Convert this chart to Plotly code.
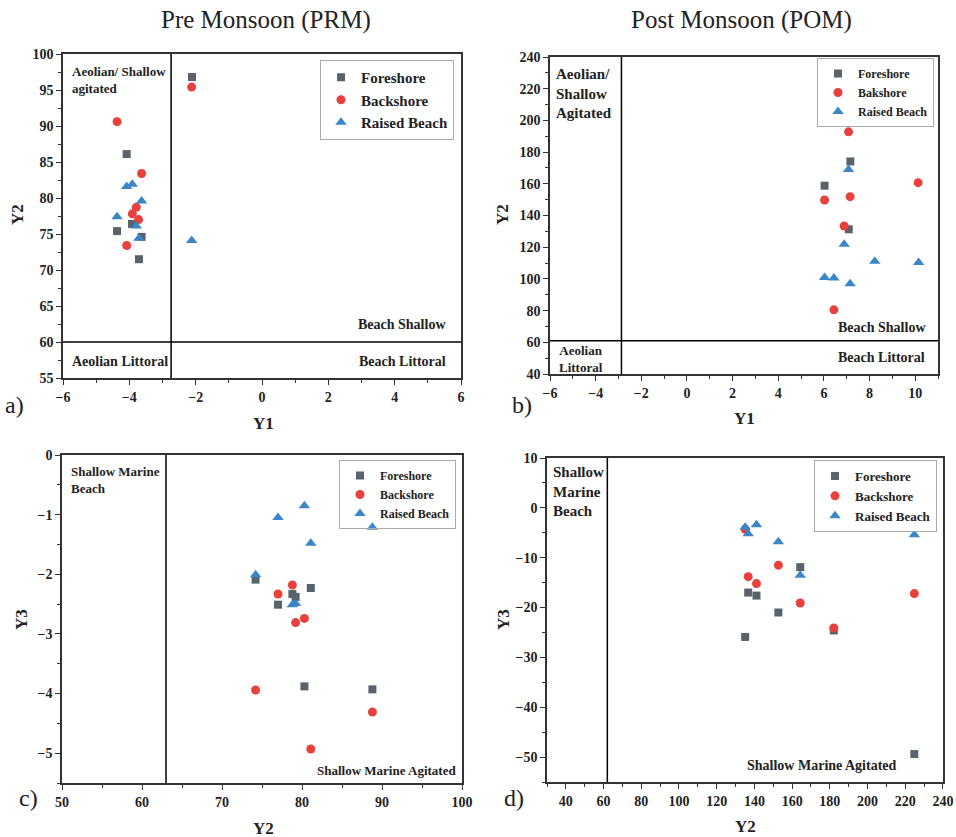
import plotly.graph_objects as go

W, H = 956, 837

# ---------------- Data ----------------
# Panel a: Pre Monsoon, Y1 vs Y2
a_fore_y1 = [-2.11, -4.08, -3.92, -4.37, -3.63, -3.71]
a_fore_y2 = [96.8, 86.1, 76.4, 75.4, 74.6, 71.5]
a_back_y1 = [-2.12, -4.37, -3.63, -3.79, -3.91, -3.72, -4.08]
a_back_y2 = [95.4, 90.6, 83.4, 78.7, 77.8, 77.0, 73.4]
a_rais_y1 = [-4.08, -3.91, -3.63, -4.37, -3.79, -3.71, -2.12]
a_rais_y2 = [81.6, 81.9, 79.6, 77.4, 76.1, 74.4, 74.1]

# Panel b: Post Monsoon, Y1 vs Y2
b_fore_y1 = [6.44, 8.23, 6.89, 7.16, 6.03, 7.09]
b_fore_y2 = [224.0, 211.7, 202.9, 174.1, 158.8, 131.3]
b_back_y1 = [7.08, 10.13, 7.15, 6.03, 6.89, 6.44]
b_back_y2 = [192.8, 160.7, 151.9, 149.8, 133.4, 80.5]
b_rais_y1 = [7.08, 6.89, 8.23, 10.15, 6.03, 6.44, 7.15]
b_rais_y2 = [169.1, 121.9, 111.2, 110.3, 100.9, 100.5, 96.9]

# Panel c: Pre Monsoon, Y2 vs Y3
c_fore_y2 = [74.2, 81.1, 78.8, 79.2, 77.0, 80.3, 88.8]
c_fore_y3 = [-2.09, -2.23, -2.33, -2.38, -2.51, -3.88, -3.93]
c_back_y2 = [78.8, 77.0, 80.3, 79.2, 74.2, 88.8, 81.1]
c_back_y3 = [-2.18, -2.33, -2.74, -2.81, -3.94, -4.31, -4.93]
c_rais_y2 = [80.3, 77.0, 88.8, 81.1, 74.2, 78.8, 79.2]
c_rais_y3 = [-0.85, -1.05, -1.21, -1.48, -2.01, -2.51, -2.49]

# Panel d: Post Monsoon, Y2 vs Y3
d_fore_y2 = [135.1, 136.7, 141.1, 152.7, 164.3, 182.1, 224.8]
d_fore_y3 = [-25.9, -17.0, -17.6, -21.0, -11.9, -24.6, -49.4]
d_back_y2 = [135.1, 136.7, 141.1, 152.7, 164.3, 182.1, 224.8]
d_back_y3 = [-4.3, -13.8, -15.2, -11.5, -19.1, -24.1, -17.2]
d_rais_y2 = [135.1, 136.7, 141.1, 152.7, 164.3, 182.1, 224.8]
d_rais_y3 = [-3.9, -5.2, -3.4, -6.8, -13.5, -4.15, -5.4]

# Boundary values
a_y1_bound, a_y2_bound = -2.74, 60.0
b_y1_bound, b_y2_bound = -2.87, 61.0
c_y2_bound = 63.0
d_y2_bound = 62.0

series_names = ["Foreshore", "Backshore", "Raised Beach"]
series_names_b = ["Foreshore", "Bakshore", "Raised Beach"]

# ---------------- Styling ----------------
COL = ["#59636b", "#e8413c", "#3b86c6"]
SYM = ["square", "circle", "triangle-up"]
SIZ = [8, 9, 10]
SERIF = "Liberation Serif"

def px(x):
    return x / W

def py(y):
    return 1 - y / H

fig = go.Figure()

panels = [
    ("x", "y", "legend", [(a_fore_y1, a_fore_y2), (a_back_y1, a_back_y2), (a_rais_y1, a_rais_y2)], series_names),
    ("x2", "y2", "legend2", [(b_fore_y1, b_fore_y2), (b_back_y1, b_back_y2), (b_rais_y1, b_rais_y2)], series_names_b),
    ("x3", "y3", "legend3", [(c_fore_y2, c_fore_y3), (c_back_y2, c_back_y3), (c_rais_y2, c_rais_y3)], series_names),
    ("x4", "y4", "legend4", [(d_fore_y2, d_fore_y3), (d_back_y2, d_back_y3), (d_rais_y2, d_rais_y3)], series_names),
]

for xa, ya, lg, data, names in panels:
    for i, (xs, ys) in enumerate(data):
        fig.add_trace(go.Scatter(
            x=xs, y=ys, mode="markers", xaxis=xa, yaxis=ya, legend=lg,
            name="<b>" + names[i] + "</b>",
            marker=dict(symbol=SYM[i], size=SIZ[i], color=COL[i], line=dict(width=0)),
        ))

def axis(domain, rng, dtick, minor, anchor, tick0=None):
    d = dict(
        domain=domain, range=rng, dtick=dtick, anchor=anchor,
        showgrid=False, zeroline=False, showline=True, linecolor="#333", linewidth=1.5,
        mirror=True, ticks="outside", ticklen=5, tickwidth=1.2, tickcolor="#333",
        minor=dict(ticks="outside", ticklen=3, dtick=minor, tickcolor="#333", showgrid=False),
        tickfont=dict(family=SERIF, size=14, color="#222", weight=700),
        automargin=False,
    )
    if tick0 is not None:
        d["tick0"] = tick0
    return d

layout = dict(
    width=W, height=H, margin=dict(l=0, r=0, t=0, b=0),
    font=dict(family=SERIF, color="#222"),
    paper_bgcolor="white", plot_bgcolor="white", showlegend=True,
    xaxis=axis([px(63), px(461)], [-6, 6], 2, 1, "y"),
    yaxis=axis([py(378), py(54)], [55, 100], 5, 2.5, "x"),
    xaxis2=axis([px(550), px(938)], [-6, 11], 2, 1, "y2"),
    yaxis2=axis([py(374), py(57)], [40, 240], 20, 10, "x2"),
    xaxis3=axis([px(62), px(462)], [50, 100], 10, 5, "y3"),
    yaxis3=axis([py(783), py(455)], [-5.5, 0], 1, 0.5, "x3"),
    xaxis4=axis([px(547), px(943)], [30, 240.01], 20, 10, "y4", tick0=0),
    yaxis4=axis([py(782), py(458)], [-55, 10], 10, 5, "x4", tick0=0),
)

def legend_box(xr, yt, size, bg="white"):
    return dict(
        x=px(xr), y=py(yt), xanchor="right", yanchor="top",
        bgcolor=bg, bordercolor="#aaa", borderwidth=1,
        font=dict(family=SERIF, size=size, color="#222"),
        itemsizing="trace", tracegroupgap=0,
    )

layout["legend"] = legend_box(454, 60, 15)
layout["legend2"] = legend_box(934, 58, 12)
layout["legend3"] = legend_box(456, 460, 12, bg="rgba(255,255,255,0)")
layout["legend4"] = legend_box(937, 460, 13)

fig.update_layout(**layout)

# Boundary lines
LINE = dict(color="black", width=1.5)
shapes = [
    dict(type="line", xref="x", yref="y", x0=a_y1_bound, x1=a_y1_bound, y0=55, y1=100, line=LINE),
    dict(type="line", xref="x", yref="y", x0=-6, x1=6, y0=a_y2_bound, y1=a_y2_bound, line=LINE),
    dict(type="line", xref="x2", yref="y2", x0=b_y1_bound, x1=b_y1_bound, y0=40, y1=240, line=LINE),
    dict(type="line", xref="x2", yref="y2", x0=-6, x1=11, y0=b_y2_bound, y1=b_y2_bound, line=LINE),
    dict(type="line", xref="x3", yref="y3", x0=c_y2_bound, x1=c_y2_bound, y0=-5.5, y1=0, line=LINE),
    dict(type="line", xref="x4", yref="y4", x0=d_y2_bound, x1=d_y2_bound, y0=-55, y1=10, line=LINE),
]
fig.update_layout(shapes=shapes)

anns = []

def txt(text, x, y, size, xanchor="center", yanchor="middle", bold=True, angle=0, align="left"):
    anns.append(dict(
        text=("<b>" + text + "</b>") if bold else text,
        x=px(x), y=py(y), xref="paper", yref="paper", showarrow=False,
        xanchor=xanchor, yanchor=yanchor, textangle=angle, align=align,
        font=dict(family=SERIF, size=size, color="#222"),
    ))

# Titles
txt("Pre Monsoon (PRM)", 266, 20, 25, bold=False)
txt("Post Monsoon (POM)", 741, 20, 25, bold=False)

# Axis titles
txt("Y2", 18, 215, 17, angle=-90)
txt("Y1", 263, 423, 17)
txt("Y2", 503, 215, 17, angle=-90)
txt("Y1", 744, 418, 17)
txt("Y3", 21, 620, 17, angle=-90)
txt("Y2", 263, 828, 17)
txt("Y3", 503, 620, 17, angle=-90)
txt("Y2", 745, 826, 17)

# Panel labels
txt("a)", 14, 405, 24, bold=False)
txt("b)", 522, 405, 24, bold=False)
txt("c)", 28, 798, 24, bold=False)
txt("d)", 514, 798, 24, bold=False)

# Region labels - panel a
txt("Aeolian/ Shallow<br>agitated", 70, 62, 13, xanchor="left", yanchor="top")
txt("Beach Shallow", 448, 325, 14, xanchor="right")
txt("Aeolian Littoral", 70, 362, 14, xanchor="left")
txt("Beach Littoral", 448, 362, 14, xanchor="right")
# panel b
txt("Aeolian/<br>Shallow<br>Agitated", 554, 64, 15, xanchor="left", yanchor="top")
txt("Beach Shallow", 928, 327, 14, xanchor="right")
txt("Aeolian<br>Littoral", 581, 359, 13, align="center")
txt("Beach Littoral", 927, 358, 14, xanchor="right")
# panel c
txt("Shallow Marine<br>Beach", 69, 462, 13, xanchor="left", yanchor="top")
txt("Shallow Marine Agitated", 458, 770, 13, xanchor="right")
# panel d
txt("Shallow<br>Marine<br>Beach", 551, 462, 15, xanchor="left", yanchor="top")
txt("Shallow Marine Agitated", 899, 765, 14, xanchor="right")

fig.update_layout(annotations=anns)

fig.write_html("out.html")
